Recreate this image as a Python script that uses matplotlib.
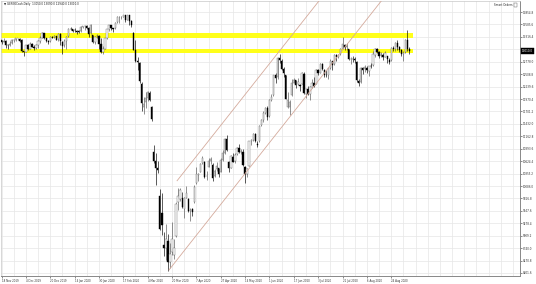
import matplotlib
matplotlib.use("Agg")
import matplotlib.pyplot as plt
from matplotlib.patches import Rectangle

# ---------------- data (GER30Cash daily, 18 Nov 2019 - 4 Sep 2020) ----------------
opens = [13240,13210,13225,13140,13140,13180,13245,13250,13285,13280,
         13240,13000,12990,13140,13060,13170,13100,13070,13140,13230,
         13300,13400,13290,13220,13220,13320,13310,13330,13260,13380,
         13200,13130,13220,13330,13490,13480,13460,13450,13430,13440,
         13530,13550,13550,13510,13390,13350,13200,13330,13340,13160,
         12990,13060,13290,13480,13570,13500,13500,13630,13740,13740,
         13750,13780,13690,13790,13650,13400,13030,12800,12760,12300,
         11800,11900,11990,12100,11800,10830,10620,10480,9880,9500,
         8800,8750,8900,8450,8650,8600,9000,9730,9800,9830,
         9580,9830,9800,9540,9590,9730,10150,10330,10400,10590,
         10600,10300,10500,10620,10550,10300,10450,10470,10400,10650,
         10790,11100,10600,10480,10720,10620,10770,10900,10820,10830,
         10500,10350,10520,11060,11080,11220,11000,11050,11400,11510,
         11660,11780,11600,11950,12050,12480,12440,12850,12800,12620,
         12480,11800,11800,12050,12320,12380,12300,12280,12300,12510,
         12080,12180,12080,12240,12320,12300,12600,12540,12730,12600,
         12500,12480,12650,12790,12720,12920,12880,12950,13060,13150,
         13100,13050,12830,12840,12830,12780,12370,12330,12640,12610,
         12650,12580,12690,12700,12930,13060,12990,12920,12930,12890,
         12900,12820,12810,13070,13060,13180,13090,13030,12940,12980,
         13250,13050]
highs = [13250,13290,13240,13160,13220,13260,13270,13300,13300,13300,
         13260,13010,13150,13160,13200,13180,13130,13160,13240,13330,
         13425,13410,13300,13240,13330,13340,13360,13340,13400,13390,
         13220,13260,13330,13510,13530,13490,13500,13470,13460,13560,
         13560,13570,13580,13520,13600,13360,13340,13380,13350,13290,
         13110,13300,13490,13580,13580,13510,13640,13760,13760,13770,
         13790,13790,13800,13800,13680,13420,13250,12870,12780,12340,
         12020,12130,12140,12140,11820,10980,10800,10620,10020,9930,
         9080,9270,9040,8860,9300,8940,9740,10040,10050,9960,
         9840,10080,9830,9620,9620,10100,10490,10360,10590,10740,
         10630,10410,10700,10720,10590,10460,10600,10480,10700,10870,
         11120,11180,10620,10750,10800,10810,10920,10990,10880,10880,
         10520,10470,11070,11110,11230,11240,11050,11400,11540,11710,
         11800,11820,11980,12080,12500,12530,12880,12950,12830,12660,
         12500,12130,11950,12400,12430,12390,12430,12290,12550,12550,
         12190,12260,12250,12400,12450,12630,12620,12760,12750,12620,
         12600,12650,12840,12800,12950,12940,12940,13070,13320,13170,
         13190,13060,12870,12900,12880,12790,12410,12670,12660,12700,
         12680,12690,12750,13010,13080,13070,13000,12980,12960,13000,
         12910,12860,13090,13120,13200,13250,13110,13060,13000,13260,
         13460,13090]
lows = [13170,13200,13080,13050,13120,13170,13210,13230,13250,13210,
        12990,12900,12985,13030,13050,13090,13040,13060,13080,13180,
        13290,13270,13210,13170,13210,13290,13300,13240,13230,13150,
        12950,13100,13060,13320,13470,13420,13420,13380,13390,13430,
        13510,13460,13490,13310,13380,13180,13170,13300,13050,12970,
        12950,13050,13280,13450,13470,13430,13490,13620,13620,13700,
        13740,13630,13680,13570,13530,13030,12780,12590,12320,11720,
        11650,11770,11920,11920,11500,10580,10100,10360,9140,9020,
        8560,8480,8255,8300,8600,8500,8990,9560,9770,9610,
        9400,9830,9520,9330,9440,9720,10140,10190,10380,10560,
        10260,10210,10490,10570,10200,10290,10420,10280,10400,10630,
        10770,10850,10400,10470,10600,10580,10760,10810,10770,10520,
        10160,10290,10510,10980,11050,11030,10920,11040,11390,11480,
        11640,11520,11590,11930,12040,12320,12400,12750,12600,12450,
        11960,11770,11630,12040,12310,12200,12280,12150,12290,12080,
        11990,12050,11950,12200,12220,12290,12500,12530,12590,12440,
        12450,12400,12630,12600,12700,12800,12850,12920,13050,13030,
        13040,12810,12720,12770,12750,12340,12250,12320,12520,12550,
        12540,12470,12640,12690,12880,12960,12860,12880,12820,12880,
        12750,12730,12800,13000,13010,13030,12980,12910,12800,12960,
        13000,12940]
closes = [13207,13221,13148,13137,13164,13247,13246,13288,13287,13236,
          13007,12989,13140,13055,13167,13105,13071,13141,13222,13283,
          13407,13288,13222,13212,13319,13300,13337,13249,13386,13219,
          13127,13227,13320,13495,13483,13452,13456,13432,13429,13526,
          13549,13556,13515,13388,13577,13205,13324,13345,13158,12982,
          13046,13282,13479,13575,13514,13494,13627,13750,13745,13745,
          13784,13681,13790,13665,13580,13035,12790,12775,12367,11890,
          11857,11985,12128,11945,11542,10625,10476,10439,9161,9232,
          8742,8939,8442,8610,8929,8742,9701,9874,10000,9633,
          9816,9936,9544,9571,9525,10075,10356,10333,10565,10697,
          10280,10302,10626,10676,10250,10416,10514,10336,10659,10796,
          11108,10862,10467,10730,10607,10760,10904,10825,10820,10543,
          10337,10465,11058,11075,11223,11065,10982,11391,11505,11657,
          11781,11587,11950,12021,12487,12431,12848,12820,12617,12530,
          11970,11949,11912,12315,12382,12281,12331,12262,12524,12094,
          12178,12089,12232,12311,12261,12608,12528,12734,12617,12495,
          12489,12634,12800,12697,12931,12874,12920,13046,13171,13105,
          13104,12838,12839,12835,12822,12380,12313,12647,12601,12661,
          12592,12675,12688,12947,13058,12994,12901,12920,12882,12977,
          12830,12765,13067,13062,13190,13096,13033,12945,12974,13243,
          13057,13010]

date_labels = ["18 Nov 2019", "4 Dec 2019", "20 Dec 2019", "14 Jan 2020", "30 Jan 2020",
               "17 Feb 2020", "4 Mar 2020", "20 Mar 2020", "7 Apr 2020", "27 Apr 2020",
               "14 May 2020", "1 Jun 2020", "17 Jun 2020", "3 Jul 2020", "21 Jul 2020",
               "6 Aug 2020", "24 Aug 2020"]
date_label_bars = [0, 12, 24, 36, 48, 60, 72, 84, 96, 108, 120, 132, 144, 156, 168, 180, 192]

price_ticks = [13854.8, 13585.6, 13316.4, 13047.2, 12778.0, 12508.8, 12239.6, 11970.4,
               11701.2, 11432.0, 11162.8, 10893.6, 10624.4, 10355.2, 10086.0, 9816.8,
               9547.6, 9278.4, 9009.2, 8740.0, 8470.8, 8201.6]

# yellow zones (price low, price high)
zone_lo = [13292, 12956]
zone_hi = [13400, 13053]
zone_end_bar = 202.7

# channel anchors: lower line (bar, price) x2, upper line start (bar, price)
chan_lower_bars = [82.5, 117.5]
chan_lower_prices = [8266, 10216]
chan_upper_bar = 86.5
chan_upper_price = 10200

symbol_title = "GER30Cash,Daily"

# ---------------- figure ----------------
W, H = 536, 284
fig = plt.figure(figsize=(W / 100, H / 100), dpi=100)
fig.patch.set_facecolor("white")
ax_l, ax_r, ax_t, ax_b = 1, 519.5, 1, 276
ax = fig.add_axes([ax_l / W, 1 - ax_b / H, (ax_r - ax_l) / W, (ax_b - ax_t) / H])
ax.set_facecolor("white")

xl = (-0.25, 255.2)
yl = (8136.6, 14093.1)
ax.set_xlim(*xl)
ax.set_ylim(*yl)

# grid
ax.set_yticks(price_ticks)
ax.set_yticklabels([f"{v:.1f}" for v in price_ticks])
ax.set_xticks(date_label_bars)
ax.set_xticklabels(date_labels)
ax.set_xticks(list(range(0, 256, 6)), minor=True)
ax.grid(True, which="major", color="#e6e6e6", lw=0.5)
ax.grid(True, which="minor", axis="x", color="#e6e6e6", lw=0.5)
ax.set_axisbelow(True)

ax.yaxis.tick_right()
ax.tick_params(axis="y", which="major", labelsize=2.0, length=1.2, width=0.4,
               pad=1.2, colors="#333333")
ax.tick_params(axis="x", which="major", labelsize=1.9, length=1.2, width=0.4,
               pad=1.0, colors="#333333")
ax.tick_params(axis="x", which="minor", length=0)
for lab in ax.get_xticklabels():
    lab.set_horizontalalignment("left")
for s in ["left", "top"]:
    ax.spines[s].set_color("#c8c8c8")
    ax.spines[s].set_linewidth(0.5)
for s in ["right", "bottom"]:
    ax.spines[s].set_color("#888888")
    ax.spines[s].set_linewidth(0.7)

# yellow zones
for lo, hi in zip(zone_lo, zone_hi):
    ax.add_patch(Rectangle((xl[0], lo), zone_end_bar - xl[0], hi - lo,
                           facecolor="#ffff1a", edgecolor="none", zorder=1))

# candles
for i, (o, h, l, c) in enumerate(zip(opens, highs, lows, closes)):
    bull = c >= o
    ax.plot([i, i], [l, h], color="#555555" if bull else "black", lw=0.45, zorder=3,
            solid_capstyle="butt")
    bottom = min(o, c)
    height = max(abs(c - o), 8)
    ax.add_patch(Rectangle((i - 0.32, bottom), 0.64, height,
                           facecolor="white" if bull else "black",
                           edgecolor="#666666" if bull else "black", lw=0.3, zorder=4))

# channel lines (rays to the right)
slope = (chan_lower_prices[1] - chan_lower_prices[0]) / (chan_lower_bars[1] - chan_lower_bars[0])
x_end = xl[1]
ax.plot([chan_lower_bars[0], x_end],
        [chan_lower_prices[0], chan_lower_prices[0] + slope * (x_end - chan_lower_bars[0])],
        color="#d4aa9c", lw=0.6, zorder=5)
ax.plot([chan_upper_bar, x_end],
        [chan_upper_price, chan_upper_price + slope * (x_end - chan_upper_bar)],
        color="#d4aa9c", lw=0.6, zorder=5)

# current price box
last = closes[-1]
ax.annotate(f"{last:.1f}", xy=(1.0, last), xycoords=("axes fraction", "data"),
            xytext=(1.5, 0), textcoords="offset points", fontsize=2.0, color="white",
            va="center", ha="left", annotation_clip=False, zorder=10,
            bbox=dict(boxstyle="square,pad=0.35", fc="black", ec="black", lw=0.3))

# header texts
fig.text(4 / W, 1 - 4.5 / H,
         "\u25bc " + symbol_title + "  " + " ".join(f"{v:.1f}" for v in
                                                     (opens[-1], highs[-1], lows[-1], closes[-1])),
         fontsize=2.0, color="#222222", va="center", ha="left")
fig.text(512 / W, 1 - 4.5 / H, "Smart Orders", fontsize=2.0, color="#222222",
         va="center", ha="right")
fig.add_artist(Rectangle((513.5 / W, 1 - 6.5 / H), 3.5 / W, 4 / H,
                         transform=fig.transFigure, facecolor="white",
                         edgecolor="#555555", lw=0.3))

fig.savefig("out.png", dpi=100)
